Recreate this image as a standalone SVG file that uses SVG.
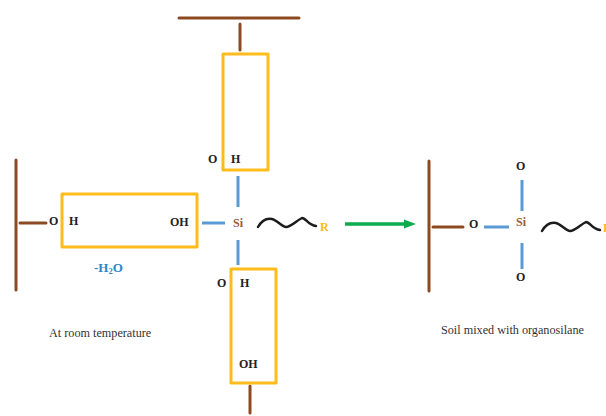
<svg xmlns="http://www.w3.org/2000/svg" width="606" height="416" viewBox="0 0 606 416">
<style>
text{font-family:"Liberation Serif","Times New Roman",serif;font-weight:bold;font-size:12px;fill:#222}
.cap{font-weight:normal;font-size:12.200px;fill:#333}
.soil{stroke:#8c4a22;stroke-width:3;fill:none;stroke-linecap:round}
.bond{stroke:#5b9bd5;stroke-width:3;fill:none}
.box{stroke:#fdbb1c;stroke-width:3;fill:none;stroke-linejoin:round}
.chain{stroke:#1c1c1c;stroke-width:2.500;fill:none;stroke-linecap:round;stroke-linejoin:round}
.si{fill:#9a5a35}
.r{fill:#fdbb1c}
</style>
<rect width="606" height="416" fill="#fff"/>
<g id="connectors">
<path class="soil" d="M179 18H299M240 24V50M16 160V290M20 223H46M250 386V413M429 161V291M433 227H463"/>
<path class="bond" d="M238 176V207M202 223H225M238 240V265M484 227H509M522 180V211M522 243V269"/>
<path d="M345 224H404" stroke="#0eaa4f" stroke-width="3.500" fill="none"/>
<path d="M416 224L404 219.500V228.500Z" fill="#0eaa4f"/>
</g>
<g id="node-top"><rect class="box" x="223" y="54" width="45" height="116"/><text x="208" y="163">O</text><text x="231" y="163">H</text></g>
<g id="node-left"><rect class="box" x="62" y="194" width="135" height="53"/><text x="49" y="225">O</text><text x="69" y="225">H</text><text x="170" y="226">OH</text></g>
<g id="node-bottom"><rect class="box" x="231" y="269" width="45" height="114"/><text x="217" y="287">O</text><text x="240" y="287">H</text><text x="239" y="368">OH</text></g>
<g id="node-silane-left"><text class="si" x="233" y="227">Si</text><path class="chain" d="M258 227C262 220 267 218 272 219C277 220 282 227 286 227C291 227 296 221 302 218C306 218 308 225 316 226"/><text class="r" x="320" y="231">R</text></g>
<g id="node-silane-right"><text x="516" y="170">O</text><text x="469" y="228">O</text><text class="si" x="516" y="226">Si</text><text x="516" y="281">O</text><path class="chain" d="M542 231C546 224 551 222 556 223C561 224 566 231 570 231C575 231 580 225 586 222C590 222 592 229 600 230"/><text class="r" x="603" y="232">R</text></g>
<g id="labels"><text x="94" y="272" style="fill:#2e86c8;font-size:13px">-H<tspan font-size="8.500" dy="2">2</tspan><tspan dy="-2">O</tspan></text><text class="cap" x="49" y="337">At room temperature</text><text class="cap" x="441" y="334">Soil mixed with organosilane</text></g>
</svg>
